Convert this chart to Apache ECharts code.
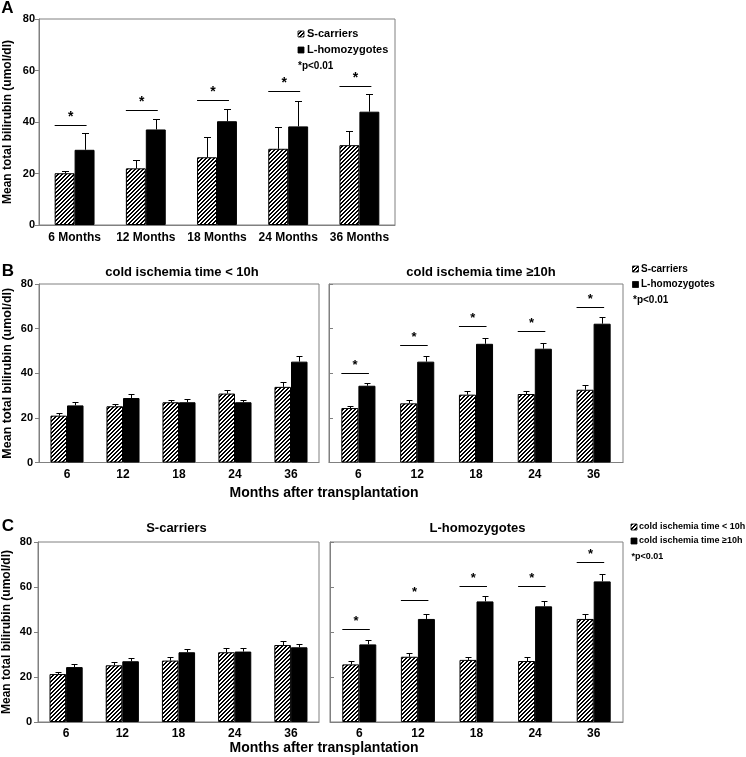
<!DOCTYPE html>
<html>
<head>
<meta charset="utf-8">
<script src="https://cdn.jsdelivr.net/npm/echarts@6/dist/echarts.min.js"></script>
<style>html,body{margin:0;padding:0;background:#fff}#chart{width:746px;height:757px}</style>
</head>
<body>
<div id="chart"></div>
<script>
// ---------- data ----------
const monthsA = ['6 Months', '12 Months', '18 Months', '24 Months', '36 Months'];
const monthsBC = ['6', '12', '18', '24', '36'];

// Panel A
const aSCarriers = [20.1, 22.0, 26.3, 29.6, 31.0];
const aSCarriersSD = [1.0, 3.3, 7.8, 8.4, 5.4];
const aLHomo = [29.2, 37.1, 40.3, 38.3, 44.0];
const aLHomoSD = [6.5, 4.0, 4.7, 9.7, 6.7];
const aSig = [38.9, 44.6, 48.6, 52.1, 53.8];

// Panel B left: cold ischemia time < 10h
const bLowS = [21.0, 25.2, 27.0, 30.9, 33.9];
const bLowSSD = [1.0, 1.0, 1.0, 1.5, 2.1];
const bLowL = [25.6, 28.9, 27.0, 27.0, 45.2];
const bLowLSD = [1.4, 1.7, 1.5, 1.2, 2.6];
// Panel B right: cold ischemia time >= 10h
const bHighS = [24.4, 26.5, 30.4, 30.7, 32.6];
const bHighSSD = [0.9, 1.5, 1.5, 1.4, 2.1];
const bHighL = [34.4, 45.2, 53.2, 51.0, 62.2];
const bHighLSD = [1.2, 2.4, 2.7, 2.5, 3.1];
const bHighSig = [40.1, 52.7, 61.2, 59.1, 69.9];

// Panel C left: S-carriers
const cSLow = [21.3, 25.2, 27.3, 31.0, 34.2];
const cSLowSD = [1.1, 1.3, 1.6, 1.9, 1.8];
const cSHigh = [24.4, 27.0, 31.0, 31.3, 33.2];
const cSHighSD = [1.4, 1.3, 1.3, 1.4, 1.6];
// Panel C right: L-homozygotes
const cLLow = [25.6, 29.0, 27.6, 27.1, 45.8];
const cLLowSD = [1.4, 1.5, 1.3, 1.6, 2.2];
const cLHigh = [34.5, 45.8, 53.6, 51.4, 62.5];
const cLHighSD = [1.8, 2.3, 2.4, 2.5, 3.3];
const cLSig = [41.3, 54.4, 60.4, 60.4, 71.3];

const yTicks = [0, 20, 40, 60, 80];

// ---------- styles ----------
const FF = '"Liberation Sans", Arial, sans-serif';
const AX = '#808080';
const hatchCanvas = (function () {
  const c = document.createElement('canvas');
  c.width = 4; c.height = 4;
  const g = c.getContext('2d');
  g.fillStyle = '#fff'; g.fillRect(0, 0, 4, 4);
  g.fillStyle = '#000';
  for (let i = 0; i < 4; i++) {
    g.fillRect(i, 3 - i, 1, 1);
    g.fillRect((i + 1) % 4, 3 - i, 1, 1);
  }
  return c;
})();
const hatch = { image: hatchCanvas, repeat: 'repeat' };

const grids = [
  { left: 39, top: 19, width: 356, height: 206 },     // A
  { left: 38, top: 284, width: 281, height: 178.5 },  // B left
  { left: 329, top: 284, width: 294, height: 178.5 }, // B right
  { left: 38, top: 542, width: 281, height: 180 },    // C left
  { left: 330, top: 542, width: 293, height: 180 }    // C right
];
const gaps = [0.44, 0.41, 0.42, 0.41, 0.42];
const caps = [7, 6, 6, 6, 6];
const starFont = [14, 13, 13, 13, 13];

const xAxes = [], yAxes = [], series = [];
grids.forEach((g, i) => {
  g.show = true; g.borderColor = AX; g.borderWidth = 1; g.backgroundColor = '#fff';
  xAxes.push({
    type: 'category', gridIndex: i, data: i === 0 ? monthsA : monthsBC,
    axisLine: { lineStyle: { color: AX } },
    axisTick: { inside: true, length: 4, lineStyle: { color: AX } },
    axisLabel: { interval: 0, color: '#000', fontFamily: FF, fontWeight: 'bold', fontSize: 12, margin: i === 0 ? 7 : 6 }
  });
  const showLab = (i === 0 || i === 1 || i === 3);
  yAxes.push({
    type: 'value', gridIndex: i, min: yTicks[0], max: yTicks[yTicks.length - 1], interval: 20,
    splitLine: { show: false },
    axisLine: { show: true, lineStyle: { color: AX } },
    axisTick: { show: true, inside: !showLab, length: 4, lineStyle: { color: AX } },
    axisLabel: { show: showLab, color: '#000', fontFamily: FF, fontWeight: 'bold', fontSize: 11, margin: i === 0 ? 4 : 6 },
    name: showLab ? 'Mean total bilirubin (umol/dl)' : '',
    nameLocation: 'middle', nameGap: 25, nameRotate: 90,
    nameTextStyle: { color: '#000', fontFamily: FF, fontWeight: 'bold', fontSize: i === 1 ? 12.5 : 12 }
  });
});

function errSeries(gi, vals, sds, side) {
  const gap = gaps[gi], cap = caps[gi];
  return {
    type: 'custom', xAxisIndex: gi, yAxisIndex: gi, z: 5, silent: true,
    data: vals.map((v, k) => [k, v, v + sds[k]]),
    renderItem: function (params, api) {
      const band = api.size([1, 0])[0];
      const bw = band * (1 - gap) / 2;
      const cx = Math.round(api.coord([api.value(0), 0])[0] + side * bw / 2) + 0.5;
      const y0 = api.coord([api.value(0), api.value(1)])[1];
      const y1 = Math.round(api.coord([api.value(0), api.value(2)])[1]) + 0.5;
      return {
        type: 'group', children: [
          { type: 'line', shape: { x1: cx, y1: y0, x2: cx, y2: y1 }, style: { stroke: '#000', lineWidth: 1 } },
          { type: 'line', shape: { x1: cx - cap / 2, y1: y1, x2: cx + cap / 2, y2: y1 }, style: { stroke: '#000', lineWidth: 1 } }
        ]
      };
    }
  };
}
function sigSeries(gi, sig) {
  const gap = gaps[gi];
  return {
    type: 'custom', xAxisIndex: gi, yAxisIndex: gi, z: 5, silent: true,
    data: sig.map((v, k) => [k, v]),
    renderItem: function (params, api) {
      const band = api.size([1, 0])[0];
      const bw = band * (1 - gap) / 2;
      const c = api.coord([api.value(0), api.value(1)]);
      const x1 = c[0] - bw, x2 = c[0] + bw / 2 + 2;
      const y = Math.round(c[1]) + 0.5;
      return {
        type: 'group', children: [
          { type: 'line', shape: { x1: x1, y1: y, x2: x2, y2: y }, style: { stroke: '#000', lineWidth: 1 } },
          { type: 'text', style: { text: '*', x: (x1 + x2) / 2, y: y - 8, align: 'center', verticalAlign: 'middle',
            textAlign: 'center', textVerticalAlign: 'middle', font: 'bold ' + starFont[gi] + 'px ' + FF, fill: '#000' } }
        ]
      };
    }
  };
}
function barPair(gi, n1, v1, sd1, n2, v2, sd2, sig) {
  series.push({
    name: n1, type: 'bar', xAxisIndex: gi, yAxisIndex: gi, data: v1,
    barGap: '0%', barCategoryGap: (gaps[gi] * 100) + '%',
    itemStyle: { color: hatch, borderColor: '#000', borderWidth: 1 }, silent: true
  });
  series.push({
    name: n2, type: 'bar', xAxisIndex: gi, yAxisIndex: gi, data: v2,
    barGap: '0%', barCategoryGap: (gaps[gi] * 100) + '%',
    itemStyle: { color: '#000', borderColor: '#000', borderWidth: 1 }, silent: true
  });
  series.push(errSeries(gi, v1, sd1, -1));
  series.push(errSeries(gi, v2, sd2, 1));
  if (sig) series.push(sigSeries(gi, sig));
}
barPair(0, 'S-carriers', aSCarriers, aSCarriersSD, 'L-homozygotes', aLHomo, aLHomoSD, aSig);
barPair(1, 'S-carriers', bLowS, bLowSSD, 'L-homozygotes', bLowL, bLowLSD, null);
barPair(2, 'S-carriers', bHighS, bHighSSD, 'L-homozygotes', bHighL, bHighLSD, bHighSig);
barPair(3, 'cold ischemia time < 10h', cSLow, cSLowSD, 'cold ischemia time ≥10h', cSHigh, cSHighSD, null);
barPair(4, 'cold ischemia time < 10h', cLLow, cLLowSD, 'cold ischemia time ≥10h', cLHigh, cLHighSD, cLSig);

// ---------- texts ----------
function txt(t, x, y, size, align, family) {
  return { type: 'text', z: 10, silent: true,
    style: { text: t, x: x, y: y, font: 'bold ' + size + 'px ' + (family || FF), fill: '#000',
      align: align || 'left', verticalAlign: 'middle', textAlign: align || 'left', textVerticalAlign: 'middle' } };
}
function icon(x, y, s, fill) {
  return { type: 'rect', z: 10, silent: true, shape: { x: x, y: y - s / 2, width: s, height: s },
    style: { fill: fill, stroke: '#000', lineWidth: 0.8 } };
}
const graphics = [
  txt('A', 7.5, 8, 17, 'center'),
  txt('B', 8, 271, 17, 'center'),
  txt('C', 8, 526, 17, 'center'),
  txt('cold ischemia time < 10h', 182, 272, 13, 'center'),
  txt('cold ischemia time ≥10h', 481, 272.5, 13, 'center'),
  txt('S-carriers', 176.5, 528, 13, 'center'),
  txt('L-homozygotes', 477.5, 528, 13, 'center'),
  txt('Months after transplantation', 324, 493, 14, 'center'),
  txt('Months after transplantation', 324, 748, 14, 'center'),
  // legend A
  icon(298, 34, 6, hatch), txt('S-carriers', 307, 34, 11),
  icon(298, 50, 6, '#000'), txt('L-homozygotes', 307, 50, 11),
  txt('*p<0.01', 298, 66, 10),
  // legend B
  icon(632.5, 269, 6, hatch), txt('S-carriers', 641, 269, 10),
  icon(632.5, 284.5, 6, '#000'), txt('L-homozygotes', 641, 284.5, 10),
  txt('*p<0.01', 633, 300, 10),
  // legend C
  icon(631, 527, 6, hatch), txt('cold ischemia time < 10h', 639, 527, 9),
  icon(631, 541, 6, '#000'), txt('cold ischemia time ≥10h', 639, 541, 9),
  txt('*p<0.01', 631.5, 557, 9)
];

const chart = echarts.init(document.getElementById('chart'), null, { renderer: 'canvas' });
chart.setOption({
  backgroundColor: '#fff',
  animation: false,
  textStyle: { fontFamily: FF },
  grid: grids,
  xAxis: xAxes,
  yAxis: yAxes,
  series: series,
  graphic: { elements: graphics }
});
</script>
</body>
</html>
